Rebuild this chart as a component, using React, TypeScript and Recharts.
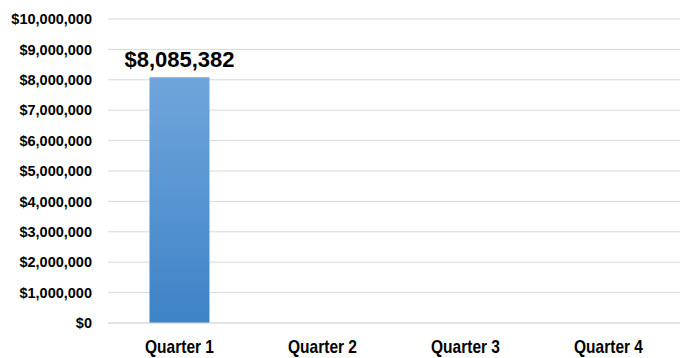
import React from 'react';
import { BarChart, Bar, XAxis, YAxis, CartesianGrid, LabelList } from 'recharts';

const quarters = ['Quarter 1', 'Quarter 2', 'Quarter 3', 'Quarter 4'];
const revenue = [8085382, 0, 0, 0];
const yTicks = [0, 1000000, 2000000, 3000000, 4000000, 5000000, 6000000, 7000000, 8000000, 9000000, 10000000];

const data = quarters.map((q, i) => ({ quarter: q, revenue: revenue[i] }));

const money = (v: number) => '$' + v.toLocaleString('en-US');

// condensed bold look for the category labels
const QuarterTick = (props: any) => {
    const { x, y, payload } = props;
    return (
        <text
            x={x}
            y={y + 22}
            textAnchor="middle"
            fill="#000"
            fontSize={19}
            fontWeight="bold"
            fontFamily='"Liberation Sans", Arial, sans-serif'
            textLength={69}
            lengthAdjust="spacingAndGlyphs"
        >
            {payload.value}
        </text>
    );
};

const App: React.FC = () => {
    return (
        <div style={{ position: 'absolute', left: 0, top: 0, background: '#fff' }}>
            <BarChart
                width={691}
                height={358}
                data={data}
                margin={{ top: 19, right: 11, bottom: 0, left: 0 }}
                barCategoryGap="29%"
            >
                <defs>
                    <linearGradient id="barFill" x1="0" y1="0" x2="0" y2="1">
                        <stop offset="0%" stopColor="#70a5db" />
                        <stop offset="100%" stopColor="#3d83c7" />
                    </linearGradient>
                </defs>
                <CartesianGrid vertical={false} stroke="#d9d9d9" strokeWidth={1} />
                <XAxis
                    dataKey="quarter"
                    axisLine={{ stroke: '#d9d9d9' }}
                    tickLine={false}
                    height={35}
                    tick={<QuarterTick />}
                />
                <YAxis
                    domain={[0, 10000000]}
                    ticks={yTicks}
                    width={108}
                    axisLine={false}
                    tickLine={false}
                    tickSize={0}
                    tickMargin={16}
                    tickFormatter={money}
                    tick={{ fill: '#000', fontSize: 14.5, fontWeight: 'bold', fontFamily: '"Liberation Sans", Arial, sans-serif' }}
                />
                <Bar dataKey="revenue" fill="url(#barFill)" isAnimationActive={false}>
                    <LabelList
                        dataKey="revenue"
                        position="top"
                        offset={10}
                        formatter={(v: any) => (v > 0 ? money(v) : '')}
                        style={{ fill: '#000', fontSize: 22, fontWeight: 'bold', fontFamily: '"Liberation Sans", Arial, sans-serif' }}
                    />
                </Bar>
            </BarChart>
        </div>
    );
};

export default App;
